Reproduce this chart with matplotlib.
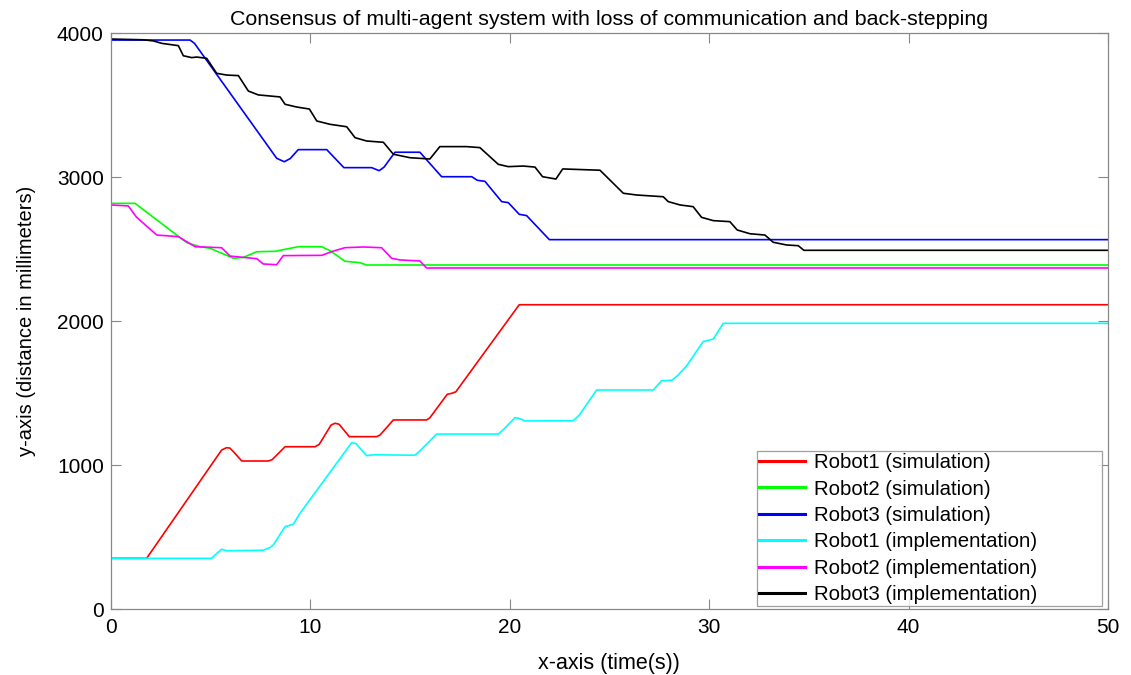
import matplotlib
matplotlib.use("Agg")
import matplotlib.pyplot as plt

plt.rcParams['font.family'] = ['Liberation Sans', 'DejaVu Sans']

# Robot1 (simulation)
r1s_t = [0, 1.80, 5.56, 5.80, 5.97, 6.15, 6.57, 7.90, 8.10, 8.74, 10.24, 10.45, 11.05, 11.25, 11.45, 11.96,
         13.33, 13.50, 14.17, 15.84, 16.00, 16.87, 17.10, 17.30, 20.48, 50]
r1s_y = [354, 354, 1106, 1122, 1120, 1095, 1030, 1030, 1040, 1129, 1129, 1145, 1280, 1292, 1285, 1199,
         1199, 1210, 1315, 1315, 1330, 1493, 1500, 1510, 2115, 2115]

# Robot2 (simulation)
r2s_t = [0, 1.22, 3.81, 4.48, 4.98, 6.15, 6.65, 7.32, 8.24, 9.40, 10.58, 11.00, 11.74, 12.49, 12.83, 50]
r2s_y = [2819, 2819, 2546, 2518, 2507, 2438, 2444, 2483, 2486, 2518, 2518, 2490, 2417, 2407, 2391, 2391]

# Robot3 (simulation)
r3s_t = [0, 3.98, 4.20, 8.32, 8.70, 9.00, 9.40, 10.83, 11.69, 13.08, 13.46, 13.70, 14.25, 15.50, 16.59,
         18.10, 18.38, 18.76, 19.60, 19.93, 20.48, 20.85, 21.99, 50]
r3s_y = [3953, 3953, 3930, 3132, 3108, 3130, 3192, 3192, 3067, 3067, 3046, 3070, 3174, 3174, 3004,
         3004, 2979, 2972, 2831, 2824, 2743, 2734, 2567, 2567]

# Robot1 (implementation)
r1i_t = [0, 5.06, 5.25, 5.56, 5.81, 7.65, 8.00, 8.15, 8.74, 9.15, 9.49, 12.08, 12.30, 12.83, 13.16, 15.25,
         15.50, 16.34, 19.43, 19.70, 20.27, 20.50, 20.77, 23.19, 23.50, 24.36, 27.20, 27.62, 28.12, 28.40,
         28.87, 29.70, 30.21, 30.71, 50]
r1i_y = [354, 354, 380, 417, 407, 410, 430, 447, 574, 590, 667, 1157, 1150, 1067, 1073, 1070,
         1100, 1217, 1217, 1250, 1331, 1325, 1308, 1310, 1350, 1523, 1523, 1588, 1590, 1620,
         1690, 1859, 1877, 1986, 1986]

# Robot2 (implementation)
r2i_t = [0, 0.88, 1.30, 2.31, 3.39, 4.23, 5.56, 5.98, 7.32, 7.65, 8.32, 8.65, 10.58, 11.10, 11.74, 12.66,
         13.58, 14.08, 14.50, 15.50, 15.84, 50]
r2i_y = [2808, 2801, 2722, 2599, 2588, 2518, 2511, 2453, 2435, 2398, 2393, 2456, 2458, 2485, 2511, 2516,
         2511, 2438, 2426, 2419, 2370, 2370]

# Robot3 (implementation)
r3i_t = [0, 1.60, 2.14, 2.56, 3.39, 3.64, 4.06, 4.31, 4.81, 5.31, 5.81, 6.40, 6.90, 7.40, 8.49, 8.74, 9.32,
         9.96, 10.33, 10.99, 11.83, 12.25, 12.83, 13.67, 14.17, 15.00, 16.00, 16.50, 17.84, 18.51, 19.43,
         19.93, 20.68, 21.27, 21.65, 22.32, 22.66, 24.53, 25.70, 26.37, 27.70, 27.95, 28.54, 29.20, 29.62,
         30.21, 31.04, 31.41, 32.05, 32.80, 33.21, 33.88, 34.47, 34.75, 50]
r3i_y = [3960, 3955, 3947, 3930, 3914, 3844, 3831, 3835, 3826, 3722, 3710, 3706, 3599, 3572, 3558, 3507, 3488,
         3474, 3391, 3368, 3351, 3275, 3252, 3243, 3160, 3136, 3127, 3213, 3213, 3206, 3090,
         3074, 3078, 3071, 3004, 2988, 3058, 3049, 2889, 2877, 2865, 2831, 2808, 2796, 2722,
         2699, 2692, 2634, 2608, 2599, 2549, 2530, 2525, 2493, 2493]

labels = ["Robot1 (simulation)", "Robot2 (simulation)", "Robot3 (simulation)",
          "Robot1 (implementation)", "Robot2 (implementation)", "Robot3 (implementation)"]
colors = ["#ff0000", "#00ff00", "#0000ff", "#00ffff", "#ff00ff", "#000000"]
series = [(r1s_t, r1s_y), (r2s_t, r2s_y), (r3s_t, r3s_y), (r1i_t, r1i_y), (r2i_t, r2i_y), (r3i_t, r3i_y)]

x_ticks = [0, 10, 20, 30, 40, 50]
y_ticks = [0, 1000, 2000, 3000, 4000]

fig = plt.figure(figsize=(11.31, 6.75), dpi=100)
ax = fig.add_axes([0.0979, 0.0973, 0.8818, 0.8534])

for (t, y), c, lab in zip(series, colors, labels):
    ax.plot(t, y, color=c, lw=1.2, label=lab)

ax.set_xlim(0, 50)
ax.set_ylim(0, 4000)
ax.set_xticks(x_ticks)
ax.set_yticks(y_ticks)
ax.tick_params(direction='in', top=True, right=True, length=7, width=0.8, color='#888888',
               labelsize=15, colors='#888888', labelcolor='black')
ax.tick_params(axis='y', pad=5)
ax.tick_params(axis='x', pad=6)
for s in ax.spines.values():
    s.set_color('#888888')
    s.set_linewidth(0.9)

ax.set_xlabel("x-axis (time(s))", fontsize=15.5, labelpad=12)
ax.set_ylabel("y-axis (distance in millimeters)", fontsize=14.5, labelpad=15)
ax.set_title("Consensus of multi-agent system with loss of communication and back-stepping",
             fontsize=15.4, pad=6)

leg = ax.legend(loc='lower left', bbox_to_anchor=(0.648, 0.0057, 0.346, 0.27), mode='expand',
                fontsize=14.7, frameon=True, fancybox=False, shadow=False,
                borderaxespad=0.0, handlelength=2.25, handletextpad=0.45, labelspacing=0.36,
                borderpad=0.1)
leg.get_frame().set_edgecolor('#888888')
leg.get_frame().set_linewidth(0.9)
for ln in leg.get_lines():
    ln.set_linewidth(2.2)

fig.savefig("out.png", dpi=100)
